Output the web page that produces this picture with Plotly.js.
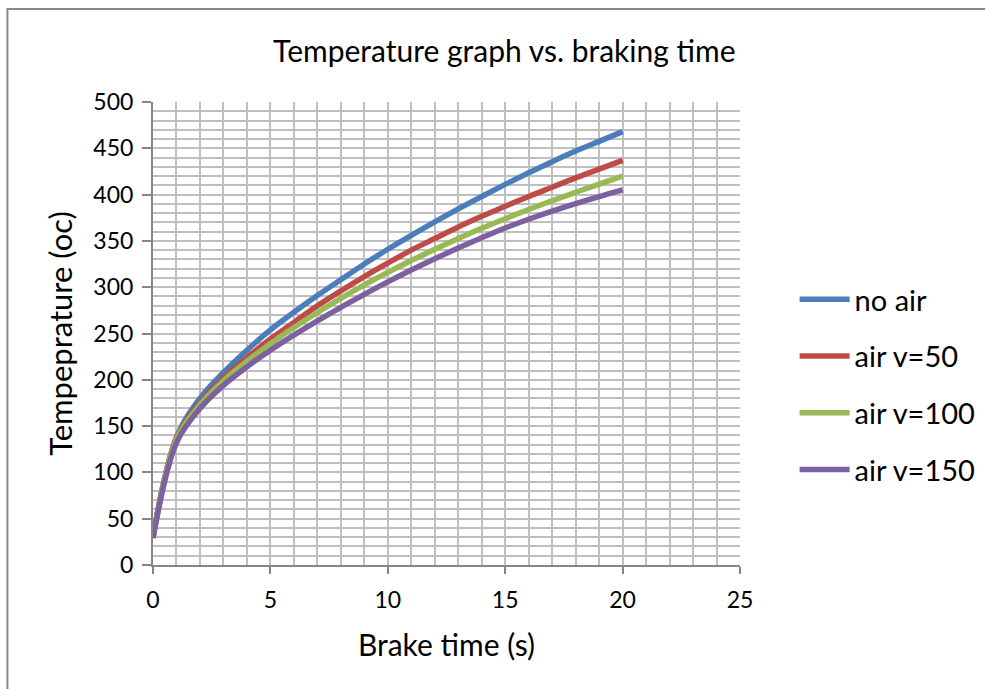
<!DOCTYPE html>
<html>
<head>
<meta charset="utf-8">
<script src="https://cdn.plot.ly/plotly-3.0.1.min.js"></script>
<style>
  html, body { margin: 0; padding: 0; background: #fff; overflow: hidden; }
  #chart { width: 985px; height: 689px; }
</style>
</head>
<body>
<div id="chart"></div>
<script>
// Brake time (s)
const brakeTime = [0, 1, 2, 3, 4, 5, 6, 7, 8, 9, 10, 11, 12, 13, 14, 15, 16, 17, 18, 19, 20];

// Temperature (oC) for each cooling case
const noAir   = [30, 138, 180, 208, 232, 254, 273, 291, 308, 325, 341, 356, 370.5, 384.5, 398, 411, 423.5, 435.5, 447, 457.5, 468];
const airV50  = [30, 137, 175, 202, 224, 244, 262, 280, 296, 311.5, 326, 340, 352.5, 365, 376.5, 387.5, 398, 408, 418, 427.5, 437];
const airV100 = [30, 136, 173, 199, 220, 239, 256.4, 272.7, 288, 302.5, 316, 328.8, 340.9, 352.5, 363.6, 374, 383.9, 393.4, 402.5, 411.4, 420];
const airV150 = [29, 132, 169, 194, 214, 232, 248.2, 263.6, 278.3, 292.3, 305.7, 318.5, 330.7, 342.3, 353.4, 364, 373.4, 382.1, 390.2, 397.8, 405];

const seriesNames = ['no air', 'air v=50', 'air v=100', 'air v=150'];
const seriesData = [noAir, airV50, airV100, airV150];
const seriesColors = ['#4a7ebb', '#be4b48', '#98b954', '#7d60a0'];

const FONT = 'Lato, "Open Sans", sans-serif';

const traces = seriesData.map((ys, i) => ({
  x: brakeTime,
  y: ys,
  name: seriesNames[i],
  type: 'scatter',
  mode: 'lines',
  legendgroup: 'g' + i,
  line: { color: seriesColors[i], width: 5.5, shape: 'spline', smoothing: 1 }
}));

const gridColor = '#bfbfbf';

const layout = {
  width: 985,
  height: 689,
  margin: { l: 153, r: 245, t: 102, b: 124, autoexpand: false },
  paper_bgcolor: '#ffffff',
  plot_bgcolor: '#ffffff',
  font: { family: FONT, color: '#000000' },
  title: {
    text: 'Temperature graph vs. braking time',
    font: { family: FONT, size: 30, color: '#000000' },
    x: 0.512, xanchor: 'center', xref: 'container',
    y: 0.925, yanchor: 'middle'
  },
  // chart-area frame along the top and left edges
  shapes: [{
    type: 'path', xref: 'paper', yref: 'paper',
    path: 'M -0.248,-0.3 L -0.248,1.201 L 1.5,1.201',
    line: { color: '#878787', width: 2 }
  }],
  xaxis: {
    range: [0, 25],
    dtick: 5,
    tick0: 0,
    showgrid: true,
    gridcolor: gridColor,
    gridwidth: 2,
    minor: { dtick: 1, showgrid: true, gridcolor: gridColor, gridwidth: 2 },
    showline: true,
    linecolor: '#868686',
    linewidth: 2,
    ticks: 'outside',
    ticklen: 7,
    tickwidth: 2,
    tickcolor: '#868686',
    zeroline: false,
    ticklabelstandoff: 6,
    tickfont: { family: FONT, size: 23, color: '#000000' },
    title: { text: 'Brake time (s)', font: { family: FONT, size: 30, color: '#000000' }, standoff: 23 }
  },
  yaxis: {
    range: [0, 500],
    dtick: 50,
    tick0: 0,
    showgrid: true,
    gridcolor: gridColor,
    gridwidth: 2,
    minor: { dtick: 10, showgrid: true, gridcolor: gridColor, gridwidth: 2 },
    showline: true,
    linecolor: '#868686',
    linewidth: 2,
    ticks: 'outside',
    ticklen: 9,
    tickwidth: 2,
    tickcolor: '#868686',
    zeroline: false,
    ticklabelstandoff: 4,
    tickfont: { family: FONT, size: 23, color: '#000000' },
    title: { text: 'Tempeprature (oc)', font: { family: FONT, size: 31, color: '#000000' }, standoff: 12 }
  },
  showlegend: true,
  legend: {
    x: 1.093, xanchor: 'left',
    y: 0.39, yanchor: 'middle',
    traceorder: 'grouped',
    tracegroupgap: 16,
    font: { family: FONT, size: 29, color: '#000000' },
    bgcolor: 'rgba(0,0,0,0)',
    itemwidth: 50
  }
};

Plotly.newPlot('chart', traces, layout, { displayModeBar: false, staticPlot: true });
</script>
</body>
</html>
